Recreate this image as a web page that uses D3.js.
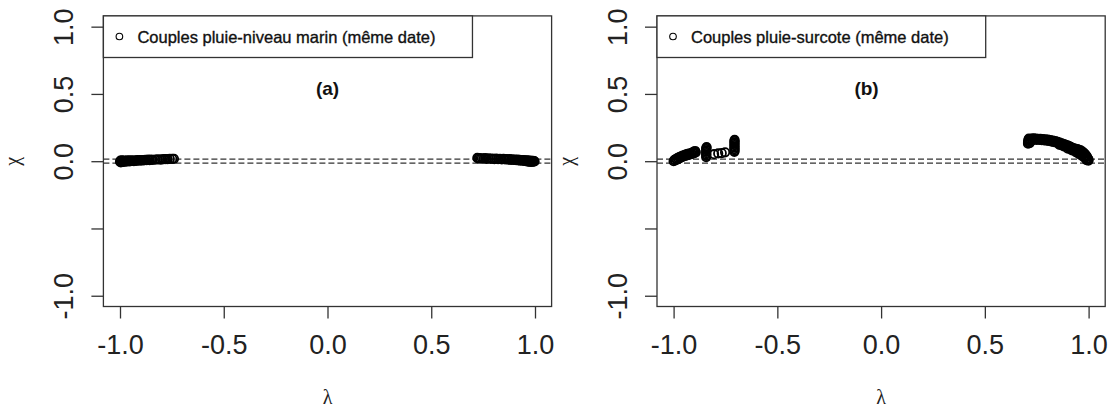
<!DOCTYPE html>
<html><head><meta charset="utf-8">
<script src="https://cdn.jsdelivr.net/npm/d3@7"></script>
<style>html,body{margin:0;padding:0;background:#fff;}</style>
</head><body>
<svg id="chart" width="1111" height="410"></svg>
<script>
// ---------------- data ----------------
const xTicks = [-1, -0.5, 0, 0.5, 1];
const xTickLabels = ["-1.0", "-0.5", "0.0", "0.5", "1.0"];
const yTicks = [-1, -0.5, 0, 0.5, 1];
const yTickLabels = ["-1.0", "", "0.0", "0.5", "1.0"];
const refLines = [-0.015, 0.015];
const legendLabels = ["Couples pluie-niveau marin (même date)", "Couples pluie-surcote (même date)"];
const panelTags = ["(a)", "(b)"];
const tagLambda = [0, -0.07];
const tagChi = [0.545, 0.545];
const xLabel = "λ";
const yLabel = "χ";

// panel (a): rain – sea level pairs
const aLeft = [[-1.000,-0.004],[-0.998,0.004],[-0.996,-0.008],[-0.994,0.000],[-0.991,0.006],[-0.989,-0.005],[-0.986,0.002],[-0.983,-0.006],[-0.980,0.005],[-0.977,-0.002],[-0.973,0.003],[-0.969,-0.004],[-0.965,0.006],[-0.961,0.000],[-0.957,0.004],[-0.953,-0.002],[-0.948,0.007],[-0.943,0.002],[-0.938,0.005],[-0.933,0.000],[-0.928,0.007],[-0.922,0.003],[-0.916,0.008],[-0.910,0.004],[-0.904,0.009],[-0.898,0.005],[-0.892,0.009],[-0.885,0.006],[-0.878,0.010],[-0.871,0.007],[-0.864,0.011],[-0.857,0.008],[-0.849,0.012],[-0.842,0.009],[-0.830,0.012],[-0.818,0.013],[-0.806,0.011],[-0.797,0.014],[-0.788,0.015],[-0.779,0.016],[-0.770,0.015],[-0.760,0.017],[-0.748,0.018],[-0.740,0.018]];
const aRight = [[0.722,0.024],[0.726,0.020],[0.731,0.023],[0.737,0.019],[0.744,0.022],[0.752,0.020],[0.760,0.023],[0.768,0.018],[0.777,0.021],[0.786,0.017],[0.795,0.020],[0.804,0.016],[0.813,0.019],[0.822,0.015],[0.831,0.018],[0.840,0.014],[0.848,0.017],[0.856,0.013],[0.864,0.016],[0.871,0.012],[0.878,0.015],[0.885,0.010],[0.891,0.013],[0.897,0.009],[0.903,0.012],[0.909,0.008],[0.915,0.011],[0.920,0.006],[0.925,0.010],[0.930,0.005],[0.935,0.009],[0.940,0.004],[0.944,0.008],[0.948,0.002],[0.952,0.007],[0.956,0.001],[0.960,0.006],[0.963,-0.001],[0.966,0.005],[0.969,-0.003],[0.972,0.004],[0.975,-0.004],[0.978,0.003],[0.981,-0.005],[0.984,0.002],[0.987,-0.004],[0.990,0.003],[0.992,-0.003],[0.995,0.001],[0.998,-0.002]];

// panel (b): rain – surge pairs
const bLeft = [[-1.000,0.000],[-0.996,0.010],[-0.992,0.006],[-0.988,0.018],[-0.984,0.012],[-0.980,0.024],[-0.976,0.018],[-0.972,0.030],[-0.968,0.024],[-0.964,0.036],[-0.960,0.030],[-0.956,0.042],[-0.952,0.035],[-0.948,0.046],[-0.944,0.040],[-0.940,0.050],[-0.936,0.043],[-0.932,0.054],[-0.928,0.047],[-0.924,0.056],[-0.920,0.050],[-0.916,0.060],[-0.912,0.054],[-0.908,0.066],[-0.905,0.058],[-0.902,0.072],[-0.899,0.062],[-0.896,0.076],[-0.893,0.066],
  [-0.843,0.030],[-0.842,0.040],[-0.843,0.050],[-0.842,0.060],[-0.843,0.070],[-0.842,0.080],[-0.843,0.090],[-0.842,0.100],[-0.841,0.105],
  [-0.805,0.052],[-0.785,0.058],[-0.768,0.060],[-0.752,0.066],
  [-0.707,0.070],[-0.706,0.080],[-0.707,0.090],[-0.706,0.100],[-0.707,0.110],[-0.706,0.120],[-0.707,0.130],[-0.706,0.140],[-0.707,0.150],[-0.706,0.158]];
const bRight = [[0.708,0.130],[0.708,0.140],[0.709,0.150],[0.710,0.160],[0.712,0.168],[0.716,0.135],[0.718,0.165],[0.722,0.150],[0.726,0.168],[0.730,0.158],[0.735,0.170],[0.740,0.160],[0.745,0.168],[0.750,0.159],[0.756,0.167],[0.762,0.158],[0.768,0.166],[0.774,0.157],[0.780,0.164],[0.786,0.155],[0.792,0.162],[0.798,0.153],[0.804,0.160],[0.810,0.150],[0.816,0.156],[0.822,0.146],[0.828,0.153],[0.834,0.142],[0.840,0.149],[0.846,0.137],[0.851,0.144],[0.856,0.131],[0.861,0.139],[0.866,0.126],[0.871,0.133],[0.876,0.120],[0.881,0.128],[0.886,0.114],[0.890,0.122],[0.894,0.108],[0.898,0.117],[0.902,0.102],[0.906,0.112],[0.910,0.096],[0.914,0.106],[0.918,0.090],[0.922,0.100],[0.926,0.084],[0.930,0.095],[0.934,0.080],[0.938,0.092],[0.942,0.078],[0.946,0.090],[0.950,0.070],[0.954,0.085],[0.958,0.062],[0.962,0.080],[0.966,0.055],[0.970,0.072],[0.973,0.046],[0.976,0.064],[0.979,0.038],[0.982,0.055],[0.985,0.028],[0.988,0.044],[0.991,0.018],[0.993,0.032],[0.995,0.010],[0.997,0.020],[0.999,0.004],[1.000,0.012],
  [0.860,0.122],[0.880,0.110],[0.900,0.093],[0.920,0.080],[0.940,0.066],[0.955,0.052],[0.968,0.040],[0.980,0.026],[0.990,0.008]];

const panelData = [aLeft.concat(aRight), bLeft.concat(bRight)];

// ---------------- layout ----------------
const panelLeft = [103.4, 657.0];
const plotW = 448.2;
const plotTop = 15.9, plotBottom = 306.5;
const ink = "#222";
const sans = "'Liberation Sans', Arial, Helvetica, sans-serif";
const serif = "'Liberation Serif', 'DejaVu Serif', serif";

const svg = d3.select("#chart");

panelData.forEach((pts, i) => {
  const x = d3.scaleLinear().domain([-1.08, 1.08]).range([panelLeft[i], panelLeft[i] + plotW]);
  const y = d3.scaleLinear().domain([-1.08, 1.08]).range([plotBottom, plotTop]);
  const g = svg.append("g");

  // reference dashed lines
  g.selectAll("line.ref").data(refLines).enter().append("line")
    .attr("class", "ref")
    .attr("x1", x.range()[0]).attr("x2", x.range()[1])
    .attr("y1", d => y(d)).attr("y2", d => y(d))
    .attr("stroke", "#333").attr("stroke-width", 1.3)
    .attr("stroke-dasharray", "6,3");

  // points
  g.selectAll("circle.pt").data(pts).enter().append("circle")
    .attr("class", "pt")
    .attr("cx", d => x(d[0])).attr("cy", d => y(d[1]))
    .attr("r", 4.2).attr("fill", "none")
    .attr("stroke", "#000").attr("stroke-width", 1.8);

  // x axis
  const xa = g.append("g").attr("transform", `translate(0,${plotBottom})`)
    .call(d3.axisBottom(x).tickValues(xTicks).tickSize(12).tickPadding(16.3)
      .tickFormat((d, k) => xTickLabels[k]));
  xa.select(".domain").remove();
  xa.selectAll("line").attr("stroke", "#333").attr("stroke-width", 1.3);
  xa.selectAll("text").attr("font-family", sans).attr("font-size", 27).attr("fill", ink);

  // y axis
  const ya = g.append("g").attr("transform", `translate(${panelLeft[i]},0)`)
    .call(d3.axisLeft(y).tickValues(yTicks).tickSize(12)
      .tickFormat((d, k) => yTickLabels[k]));
  ya.select(".domain").remove();
  ya.selectAll("line").attr("stroke", "#333").attr("stroke-width", 1.3);
  ya.selectAll("text")
    .attr("x", 0).attr("y", 0).attr("dy", 0)
    .attr("text-anchor", "middle")
    .attr("transform", "translate(-30.4,0) rotate(-90)")
    .attr("font-family", sans).attr("font-size", 27).attr("fill", ink);

  // plot box
  g.append("rect")
    .attr("x", x.range()[0]).attr("y", plotTop)
    .attr("width", plotW).attr("height", plotBottom - plotTop)
    .attr("fill", "none").attr("stroke", "#333").attr("stroke-width", 1.3);

  // axis titles
  g.append("text").text(xLabel)
    .attr("x", (x.range()[0] + x.range()[1]) / 2).attr("y", 404)
    .attr("text-anchor", "middle").attr("font-family", serif)
    .attr("font-size", 20).attr("fill", ink);
  g.append("text").text(yLabel)
    .attr("transform", `translate(${panelLeft[i] - 84},${y(0)}) rotate(-90)`)
    .attr("text-anchor", "middle").attr("font-family", serif)
    .attr("font-size", 20).attr("fill", ink);

  // panel tag
  g.append("text").text(panelTags[i])
    .attr("x", x(tagLambda[i])).attr("y", y(tagChi[i]))
    .attr("dy", "0.35em")
    .attr("text-anchor", "middle").attr("font-family", sans)
    .attr("font-weight", "bold").attr("font-size", 19).attr("fill", "#111");

  // legend
  const lg = g.append("g");
  const lt = lg.append("text").text(legendLabels[i])
    .attr("x", panelLeft[i] + 34).attr("y", 42.5)
    .attr("font-family", sans).attr("font-size", 16.5).attr("fill", "#111")
    .attr("stroke", "#111").attr("stroke-width", 0.35);
  const tw = lt.node().getComputedTextLength();
  lg.insert("rect", "text")
    .attr("x", panelLeft[i]).attr("y", plotTop)
    .attr("width", 34 + tw + 37).attr("height", 57.5 - plotTop)
    .attr("fill", "#fff").attr("stroke", "#333").attr("stroke-width", 1.3);
  lg.append("circle")
    .attr("cx", panelLeft[i] + 16).attr("cy", 36.5).attr("r", 3.3)
    .attr("fill", "none").attr("stroke", "#000").attr("stroke-width", 1.1);
});
</script>
</body></html>
